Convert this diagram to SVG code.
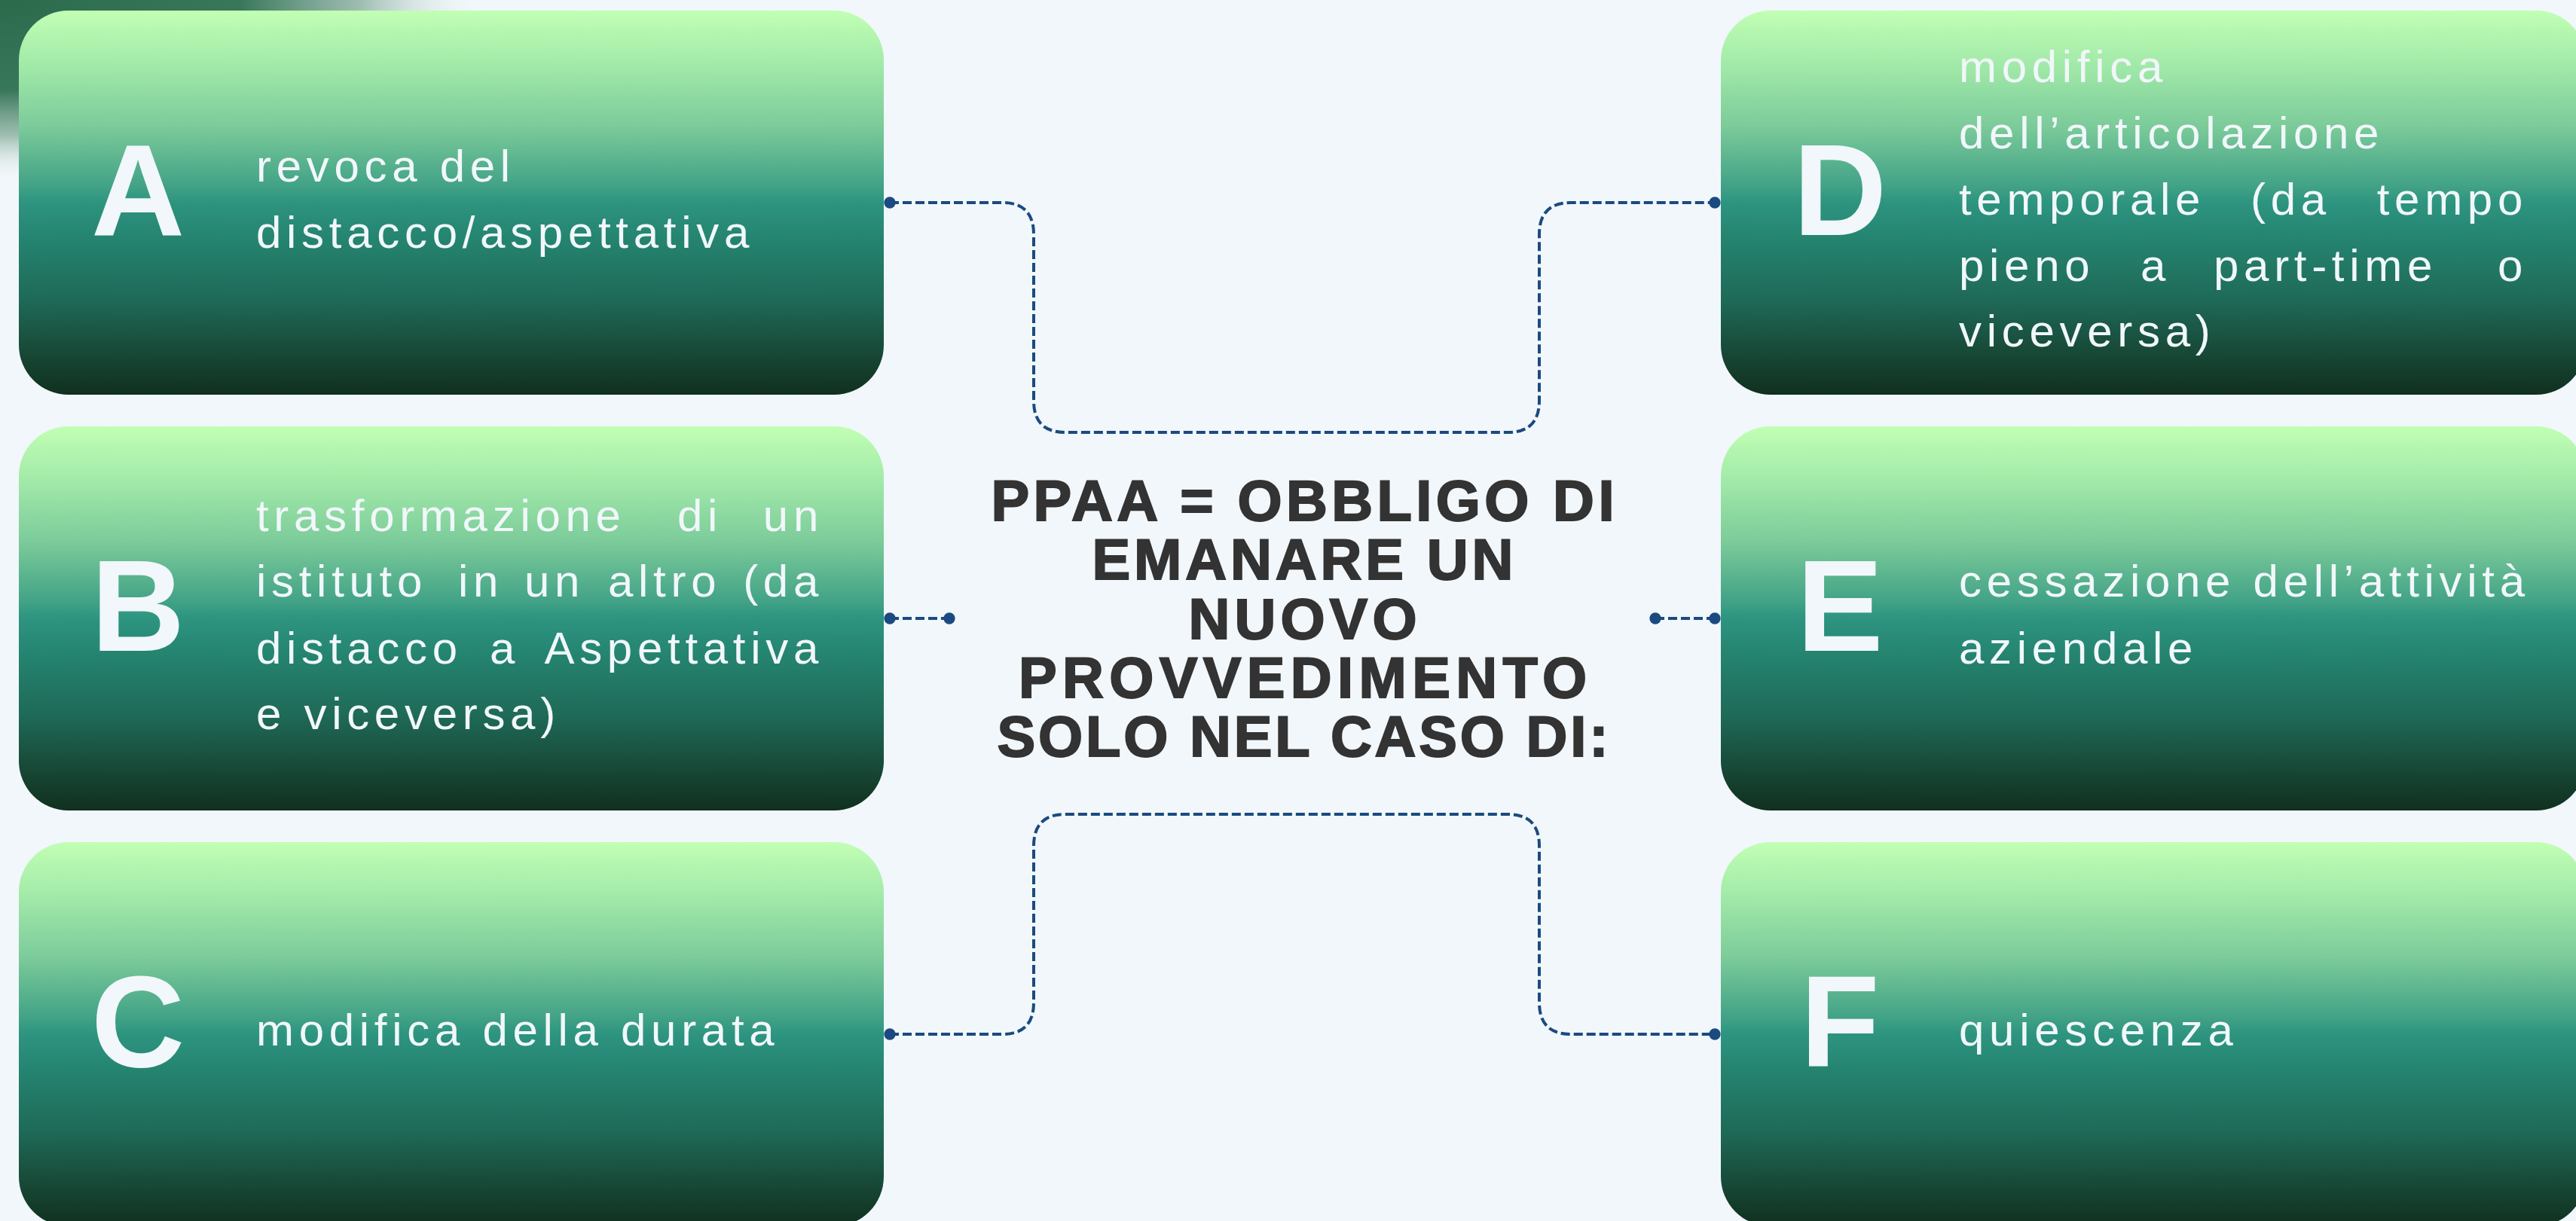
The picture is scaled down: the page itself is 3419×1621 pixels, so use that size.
<svg xmlns="http://www.w3.org/2000/svg" width="3419" height="1621" viewBox="0 0 3419 1621">
<defs>
<linearGradient id="boxg" x1="0" y1="0" x2="0" y2="1">
<stop offset="0" stop-color="#c1ffb4"/>
<stop offset="0.15" stop-color="#a0e8a8"/>
<stop offset="0.3" stop-color="#7ccb9a"/>
<stop offset="0.45" stop-color="#44a487"/>
<stop offset="0.5" stop-color="#2d9480"/>
<stop offset="0.6" stop-color="#24836f"/>
<stop offset="0.75" stop-color="#1f6a58"/>
<stop offset="0.9" stop-color="#174634"/>
<stop offset="1" stop-color="#10301f"/>
</linearGradient>
<radialGradient id="blob" cx="0" cy="0" r="1" gradientUnits="userSpaceOnUse" gradientTransform="translate(0,0) scale(640,240)">
<stop offset="0" stop-color="#2b6b4c"/>
<stop offset="0.5" stop-color="#2f7052" stop-opacity="0.95"/>
<stop offset="0.75" stop-color="#5b8f76" stop-opacity="0.55"/>
<stop offset="1" stop-color="#f1f7fa" stop-opacity="0"/>
</radialGradient>
<marker id="dot" viewBox="-10 -10 20 20" markerWidth="18" markerHeight="18" markerUnits="userSpaceOnUse" refX="0" refY="0" orient="auto">
<circle cx="0" cy="0" r="8.5" fill="#1b4a80"/>
</marker>
<style>
.box{fill:url(#boxg);}
.letter{font-family:"Liberation Sans",Arial,sans-serif;font-weight:bold;font-size:172px;fill:#f1f7fa;text-anchor:middle;}
.txt{font-family:"Liberation Sans",Arial,sans-serif;font-size:60px;fill:#f1f7fa;letter-spacing:6.7px;}
.end{text-anchor:end;}
.title{font-family:"Liberation Sans",Arial,sans-serif;font-weight:bold;font-size:76px;fill:#333333;stroke:#333333;stroke-width:2;text-anchor:middle;}
.conn{fill:none;stroke:#1b4a80;stroke-width:4;stroke-dasharray:12 5;marker-start:url(#dot);marker-end:url(#dot);}
</style>
</defs>
<rect x="0" y="0" width="3419" height="1621" fill="#f1f7fa"/>
<rect x="0" y="0" width="700" height="260" fill="url(#blob)"/>

<g id="connectors">
<path class="conn" d="M1181,269 H1330 Q1372,269 1372,311 V532 Q1372,574 1414,574 H2001 Q2043,574 2043,532 V311 Q2043,269 2085,269 H2276"/>
<path class="conn" d="M1181,1373 H1330 Q1372,1373 1372,1331 V1123 Q1372,1081 1414,1081 H2001 Q2043,1081 2043,1123 V1331 Q2043,1373 2085,1373 H2276"/>
<path class="conn" d="M1181,821 H1260"/>
<path class="conn" d="M2197,821 H2276"/>
</g>

<g id="node-A">
<rect class="box" x="25" y="14" width="1148" height="510" rx="66" ry="66"/>
<text class="letter" x="183" y="312">A</text>
<text class="txt" x="340" y="241">revoca del</text>
<text class="txt" x="340" y="329">distacco/aspettativa</text>
</g>

<g id="node-B">
<rect class="box" x="25" y="566" width="1148" height="510" rx="66" ry="66"/>
<text class="letter" x="183" y="864">B</text>
<text class="txt" y="705"><tspan x="340">trasformazione</tspan><tspan x="899">di</tspan></text>
<text class="txt end" x="1093" y="705">un</text>
<text class="txt" y="792"><tspan x="340">istituto</tspan><tspan x="608">in</tspan><tspan x="696">un</tspan><tspan x="807">altro</tspan></text>
<text class="txt end" x="1093" y="792">(da</text>
<text class="txt" y="881"><tspan x="340">distacco</tspan><tspan x="650">a</tspan></text>
<text class="txt end" x="1093" y="881">Aspettativa</text>
<text class="txt" x="340" y="968">e viceversa)</text>
</g>

<g id="node-C">
<rect class="box" x="25" y="1118" width="1148" height="510" rx="66" ry="66"/>
<text class="letter" x="183" y="1416">C</text>
<text class="txt" x="340" y="1388">modifica della durata</text>
</g>

<g id="node-D">
<rect class="box" x="2284" y="14" width="1148" height="510" rx="66" ry="66"/>
<text class="letter" x="2442" y="312">D</text>
<text class="txt" x="2600" y="109">modifica</text>
<text class="txt" x="2600" y="197">dell’articolazione</text>
<text class="txt" y="285"><tspan x="2600">temporale</tspan><tspan x="2987">(da</tspan></text>
<text class="txt end" x="3355" y="285">tempo</text>
<text class="txt" y="373"><tspan x="2600">pieno</tspan><tspan x="2841">a</tspan><tspan x="2938">part-time</tspan></text>
<text class="txt end" x="3355" y="373">o</text>
<text class="txt" x="2600" y="460">viceversa)</text>
</g>

<g id="node-E">
<rect class="box" x="2284" y="566" width="1148" height="510" rx="66" ry="66"/>
<text class="letter" x="2442" y="864">E</text>
<text class="txt" x="2600" y="792">cessazione dell’attività</text>
<text class="txt" x="2600" y="881">aziendale</text>
</g>

<g id="node-F">
<rect class="box" x="2284" y="1118" width="1148" height="510" rx="66" ry="66"/>
<text class="letter" x="2442" y="1416">F</text>
<text class="txt" x="2600" y="1388">quiescenza</text>
</g>

<g id="node-center">
<text class="title" x="1729" y="691" textLength="827" lengthAdjust="spacing">PPAA = OBBLIGO DI</text>
<text class="title" x="1729" y="769" textLength="559" lengthAdjust="spacing">EMANARE UN</text>
<text class="title" x="1729" y="848" textLength="303" lengthAdjust="spacing">NUOVO</text>
<text class="title" x="1729" y="926" textLength="754" lengthAdjust="spacing">PROVVEDIMENTO</text>
<text class="title" x="1729" y="1004" textLength="811" lengthAdjust="spacing">SOLO NEL CASO DI:</text>
</g>
</svg>
